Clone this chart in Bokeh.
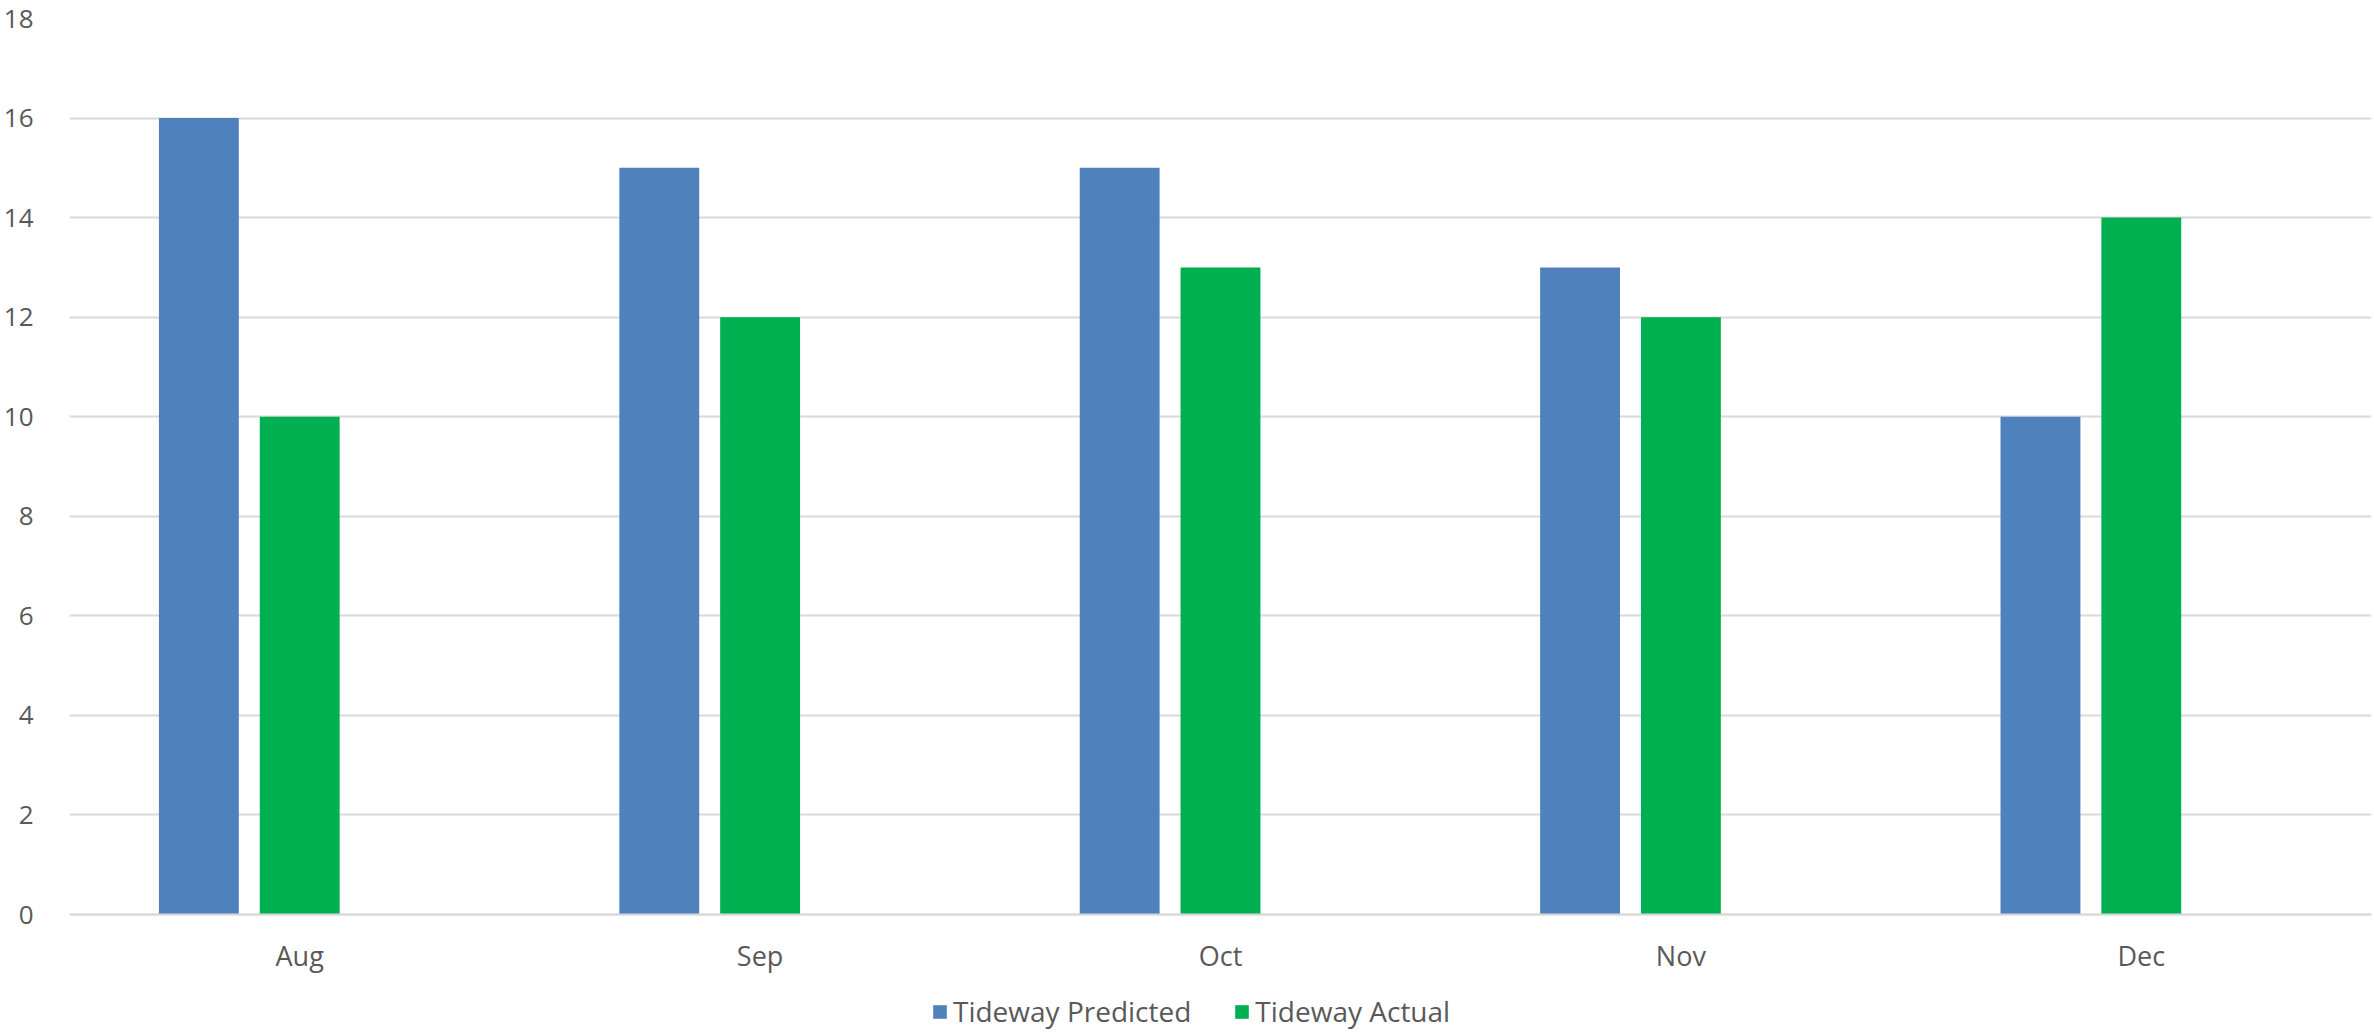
from bokeh.plotting import figure
from bokeh.models import FactorRange, Range1d, FixedTicker, Legend, LegendItem, ColumnDataSource
from bokeh.transform import dodge
from bokeh.embed import file_html
from bokeh.resources import INLINE

months = ["Aug", "Sep", "Oct", "Nov", "Dec"]
predicted = [16, 15, 15, 13, 10]
actual = [10, 12, 13, 12, 14]
y_ticks = [0, 2, 4, 6, 8, 10, 12, 14, 16, 18]
series_names = ["Tideway Predicted", "Tideway Actual"]

BLUE = "#4F81BD"
GREEN = "#00B050"
GRID = "#D9D9D9"
TEXT = "#595959"
FONT = "Open Sans"

W, H = 2374, 1034
TOP, BOTTOM_AXIS = 18, 914          # pixel rows of the 18 and 0 gridlines
px_per_unit = (BOTTOM_AXIS - TOP) / 18.0
y_start = -(H - BOTTOM_AXIS) / px_per_unit   # empty band below zero for labels + legend

src = ColumnDataSource(dict(month=months, predicted=predicted, actual=actual))

p = figure(
    x_range=FactorRange(factors=months, range_padding=0),
    y_range=Range1d(y_start, 18),
    width=W, height=H,
    output_backend="svg", toolbar_location=None,
    min_border_left=66, min_border_right=3, min_border_top=TOP, min_border_bottom=0,
)
p.outline_line_color = None
p.background_fill_color = "white"
p.border_fill_color = "white"

bw = 0.1735
r1 = p.vbar(x=dodge("month", -0.219, range=p.x_range), top="predicted", bottom=0, width=bw,
            source=src, fill_color=BLUE, line_color=None)
r2 = p.vbar(x=dodge("month", 0.0, range=p.x_range), top="actual", bottom=0, width=bw,
            source=src, fill_color=GREEN, line_color=None)

# y axis
p.yaxis.ticker = FixedTicker(ticks=y_ticks)
p.yaxis.axis_line_color = None
p.yaxis.major_tick_line_color = None
p.yaxis.minor_tick_line_color = None
p.yaxis.major_label_standoff = 30
p.yaxis.major_label_text_font = FONT
p.yaxis.major_label_text_font_size = "26px"
p.yaxis.major_label_text_color = TEXT

# x axis drawn at y = 0
p.xaxis.fixed_location = 0
p.xaxis.axis_line_color = GRID
p.xaxis.axis_line_width = 2
p.xaxis.major_tick_line_color = None
p.xaxis.minor_tick_line_color = None
p.xaxis.major_label_standoff = 16
p.xaxis.major_label_text_font = FONT
p.xaxis.major_label_text_font_size = "27px"
p.xaxis.major_label_text_color = TEXT

p.xgrid.grid_line_color = None
p.ygrid.grid_line_color = GRID
p.ygrid.grid_line_width = 2

legend = Legend(
    items=[LegendItem(label=series_names[0], renderers=[r1]),
           LegendItem(label=series_names[1], renderers=[r2])],
    orientation="horizontal",
    location=(862, 4),
    label_text_font=FONT,
    label_text_font_size="28px",
    label_text_color=TEXT,
    glyph_width=17, glyph_height=17,
    label_standoff=5,
    spacing=42,
    padding=0, margin=0,
    label_height=25,
    border_line_color=None,
    background_fill_alpha=0,
)
p.add_layout(legend, "center")

open("out.html", "w").write(file_html(p, INLINE))
